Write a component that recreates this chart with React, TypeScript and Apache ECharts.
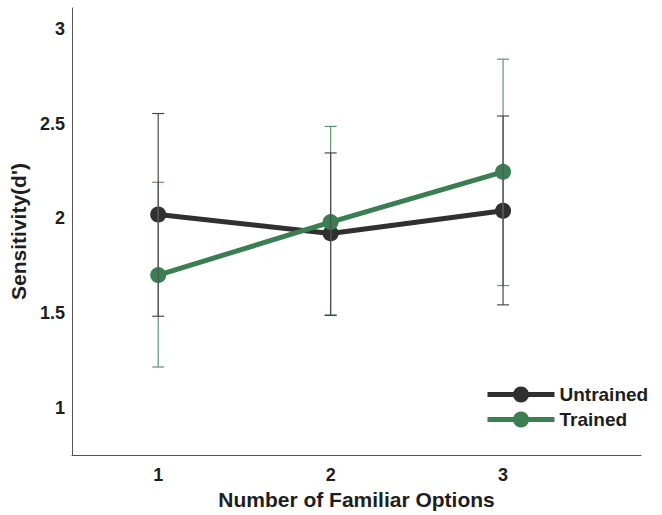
import React, { useEffect, useRef } from "react";
import * as echarts from "echarts";

const categories = [1, 2, 3];
const untrainedMean = [2.02, 1.92, 2.04];
const untrainedLow = [1.483, 1.487, 1.543];
const untrainedHigh = [2.553, 2.345, 2.54];
const trainedMean = [1.70, 1.98, 2.245];
const trainedLow = [1.215, 1.49, 1.645];
const trainedHigh = [2.19, 2.485, 2.84];
const yTickLabels = ["1", "1.5", "2", "2.5", "3"];
const xTickLabels = ["1", "2", "3"];

const DARK = "#303030";
const GREEN = "#3b7e52";
const DARK_ERR = "#4a4a4a";
const GREEN_ERR = "#5c9670";
const FONT = "Liberation Sans, Arial, sans-serif";

function errorSeries(name: string, low: number[], high: number[], color: string, z: number) {
  return {
    type: "custom",
    name: name + "-err",
    z,
    silent: true,
    data: categories.map((c, i) => [c, low[i], high[i]]),
    renderItem: (params: any, api: any) => {
      const x = api.value(0);
      const pLo = api.coord([x, api.value(1)]);
      const pHi = api.coord([x, api.value(2)]);
      const hw = 6;
      const style = { stroke: color, lineWidth: 1.2 };
      return {
        type: "group",
        children: [
          { type: "line", shape: { x1: pLo[0], y1: pLo[1], x2: pHi[0], y2: pHi[1] }, style },
          { type: "line", shape: { x1: pLo[0] - hw, y1: pLo[1], x2: pLo[0] + hw, y2: pLo[1] }, style },
          { type: "line", shape: { x1: pHi[0] - hw, y1: pHi[1], x2: pHi[0] + hw, y2: pHi[1] }, style },
        ],
      };
    },
  };
}

export default function App() {
  const ref = useRef<HTMLDivElement>(null);
  useEffect(() => {
    if (!ref.current) return;
    const chart = echarts.init(ref.current, null, { renderer: "svg" });
    chart.setOption({
      animation: false,
      backgroundColor: "#ffffff",
      grid: { left: 72, top: 8, right: 21, bottom: 58, containLabel: false },
      legend: {
        orient: "vertical",
        left: 480,
        top: 380,
        itemWidth: 67,
        itemHeight: 20,
        itemGap: 6,
        lineStyle: { width: 5 },
        data: [
          { name: "Untrained", lineStyle: { width: 5, color: DARK }, itemStyle: { color: DARK } },
          { name: "Trained", lineStyle: { width: 5, color: GREEN }, itemStyle: { color: GREEN } },
        ],
        textStyle: { fontFamily: FONT, fontWeight: "bold", fontSize: 19, color: "#1e1e1e" },
      },
      xAxis: {
        type: "value",
        min: 0.5,
        max: 3.8,
        interval: 0.5,
        name: "Number of Familiar Options",
        nameLocation: "middle",
        nameGap: 30,
        nameTextStyle: { fontFamily: FONT, fontWeight: "bold", fontSize: 21, color: "#1e1e1e" },
        axisLine: { show: true, lineStyle: { color: "#555", width: 1 } },
        axisTick: { show: false },
        splitLine: { show: false },
        axisLabel: {
          margin: 11,
          fontFamily: FONT,
          fontWeight: "bold",
          fontSize: 18,
          color: "#1e1e1e",
          formatter: (v: number) => {
            const i = xTickLabels.indexOf(String(v));
            return i >= 0 ? xTickLabels[i] : "";
          },
        },
      },
      yAxis: {
        type: "value",
        min: 0.75,
        max: 3.11,
        interval: 0.25,
        name: "Sensitivity(d')",
        nameLocation: "middle",
        nameGap: 36,
        nameTextStyle: { fontFamily: FONT, fontWeight: "bold", fontSize: 21, color: "#1e1e1e" },
        axisLine: { show: true, lineStyle: { color: "#555", width: 1 } },
        axisTick: { show: false },
        splitLine: { show: false },
        axisLabel: {
          margin: 7,
          fontFamily: FONT,
          fontWeight: "bold",
          fontSize: 18,
          color: "#1e1e1e",
          formatter: (v: number) => {
            const s = String(Math.round(v * 100) / 100);
            return yTickLabels.indexOf(s) >= 0 ? s : "";
          },
        },
      },
      series: [
        {
          type: "line",
          name: "Untrained",
          data: categories.map((c, i) => [c, untrainedMean[i]]),
          color: DARK,
          lineStyle: { color: DARK, width: 5 },
          itemStyle: { color: DARK },
          symbol: "circle",
          symbolSize: 16,
          z: 2,
        },
        {
          type: "line",
          name: "Trained",
          data: categories.map((c, i) => [c, trainedMean[i]]),
          color: GREEN,
          lineStyle: { color: GREEN, width: 5 },
          itemStyle: { color: GREEN },
          symbol: "circle",
          symbolSize: 16,
          z: 3,
        },
        errorSeries("Trained", trainedLow, trainedHigh, GREEN_ERR, 5),
        errorSeries("Untrained", untrainedLow, untrainedHigh, DARK_ERR, 6),
      ],
    });
    return () => chart.dispose();
  }, []);
  return <div ref={ref} style={{ width: 662, height: 515, position: "absolute", left: 0, top: 0 }} />;
}
